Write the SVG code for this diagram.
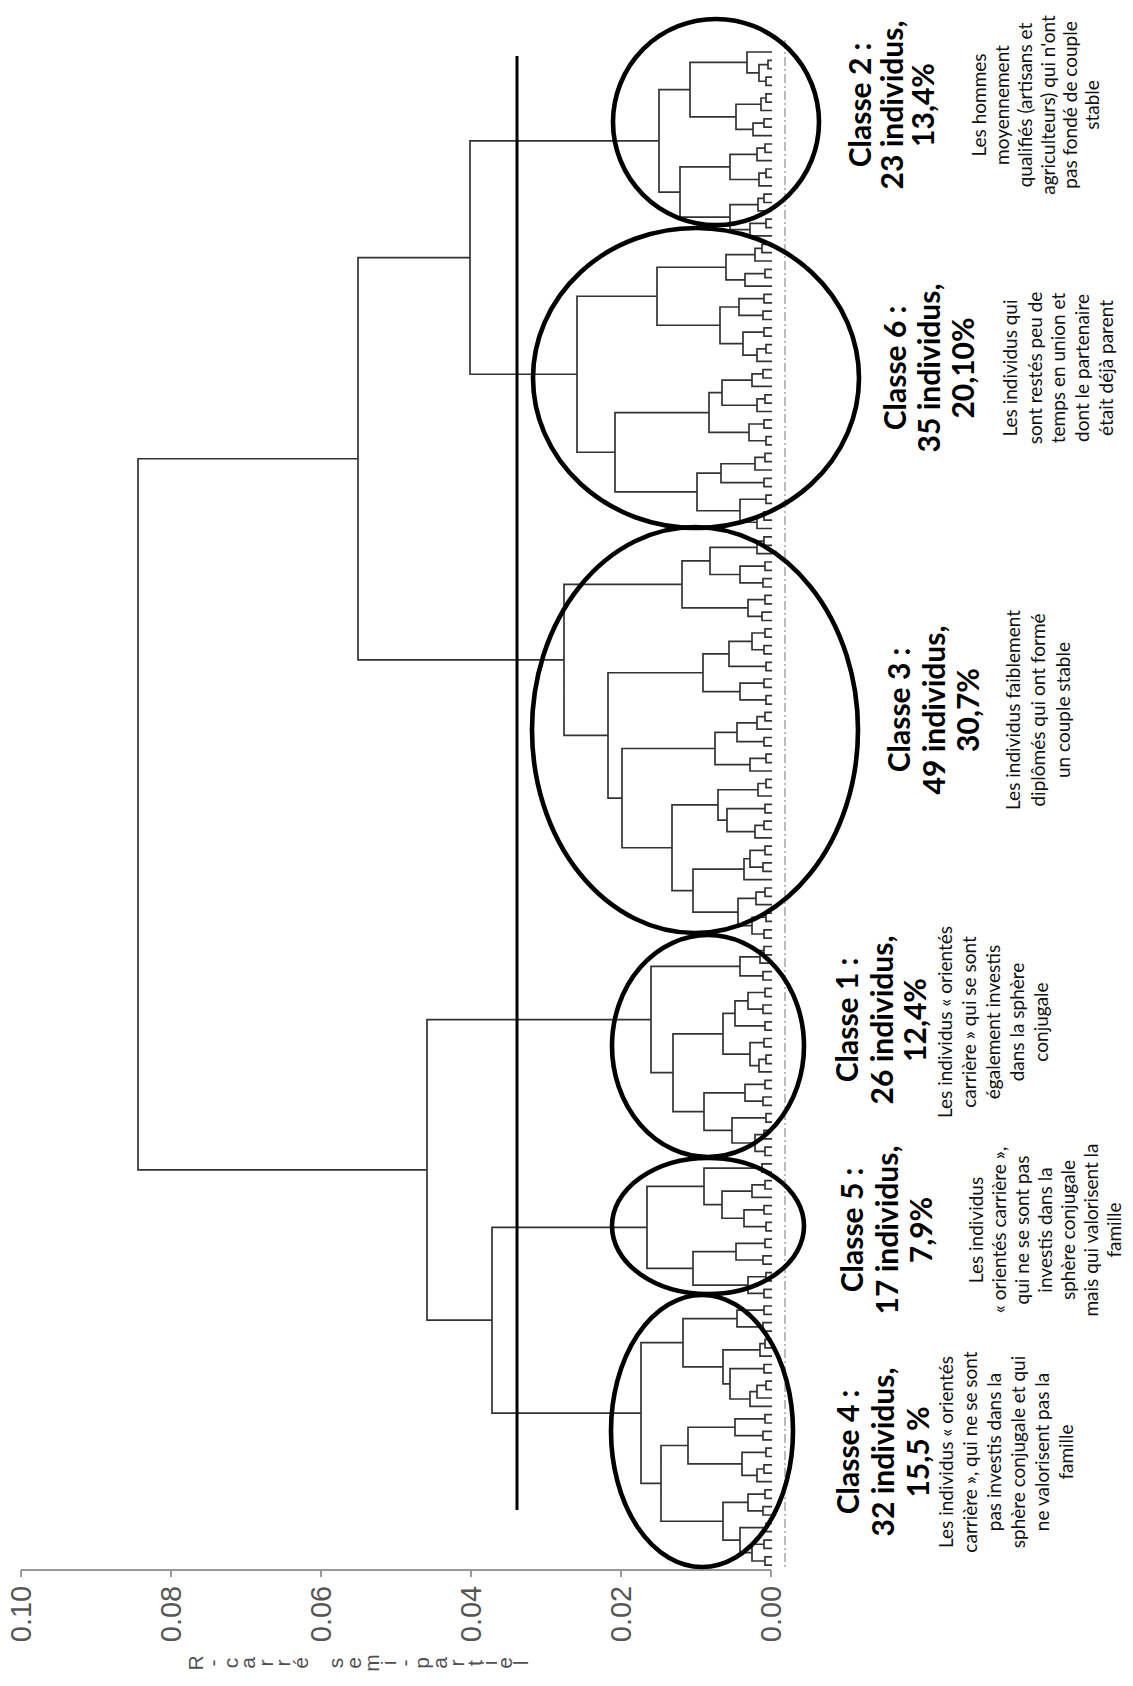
<svg xmlns="http://www.w3.org/2000/svg" width="1133" height="1686" viewBox="0 0 1133 1686">
<style>
.tree{fill:none;stroke:#333;stroke-width:1.7;stroke-linejoin:miter}
.ell{fill:none;stroke:#000;stroke-width:4.6}
.cut{stroke:#000;stroke-width:3}
.dash{stroke:#777;stroke-width:1;stroke-dasharray:9 3 2 3}
.axis{stroke:#999;stroke-width:2;fill:none}
.h{font-family:Lato,"Liberation Sans",sans-serif;font-weight:700;font-size:30px;fill:#000;text-anchor:middle}
.d{font-family:Lato,"Liberation Sans",sans-serif;font-size:19px;fill:#111;text-anchor:middle}
.ax{font-family:"Liberation Sans",Arial,sans-serif;font-size:29px;fill:#555;text-anchor:middle}
.at{font-family:"Liberation Sans",Arial,sans-serif;font-size:21px;fill:#505050;text-anchor:middle}
</style>
<rect width="1133" height="1686" fill="#fff"/>

<g id="axis">
<path class="axis" d="M21,1570H771M21,1570V1577M171,1570V1577M321,1570V1577M471,1570V1577M621,1570V1577M771,1570V1577"/>
<text class="ax" transform="rotate(-90)"><tspan x="-1614" y="31">0.10</tspan><tspan x="-1614" y="181">0.08</tspan><tspan x="-1614" y="331">0.06</tspan><tspan x="-1614" y="481">0.04</tspan><tspan x="-1614" y="631">0.02</tspan><tspan x="-1614" y="781">0.00</tspan></text>
<text class="at" transform="rotate(-90)" x="-1663 -1663 -1663 -1663 -1663 -1663 -1663 -1663 -1663 -1663 -1663 -1663 -1663 -1663 -1663 -1663 -1663 -1663 -1663" y="203 220 238 255 273 290 308 343 361 379 396 412 429 447 464 482 497 512 528">R-carrésemi-partiel</text>
</g>

<g id="baseline-dash"><line class="dash" x1="785" y1="40" x2="785" y2="1570"/></g>

<g id="connectors">
<path id="tree-classe-2" class="tree" d="M772,60.4H768V68.7H772M772,77.1H766V85.4H772M768,64.55H759V81.25H766M772,52H747V72.9H759M772,93.8H766V102.2H772M766,98H761V110.5H772M772,118.9H764V127.2H772M764,123.05H753V135.6H772M761,104.25H736V129.3H753M747,62.45H690V116.8H736M772,144H765V152.3H772M765,148.15H757V160.7H772M772,169H766V177.4H772M766,173.2H759V185.8H772M757,154.4H730V179.5H759M772,194.1H764V202.5H772M764,198.3H758V210.8H772M772,219.2H766V227.6H772M766,223.4H750V235.9H772M758,204.55H730V229.65H750M730,166.95H680V217.1H730M690,89.6H659V192.03H680"/>
<path id="tree-classe-6" class="tree" d="M772,244.3H762V252.6H772M762,248.45H755V261H772M772,269.4H765V277.7H772M765,273.55H745V286.1H772M755,254.7H726V279.8H745M772,294.4H764V302.8H772M772,311.2H763V319.5H772M764,298.6H739V315.35H763M772,327.9H764V336.2H772M772,344.6H766V353H772M766,348.8H757V361.3H772M764,332.05H743V355.05H757M739,306.98H720V343.55H743M726,267.25H657V325.27H720M772,369.7H763V378H772M763,373.85H752V386.4H772M772,394.8H765V403.1H772M765,398.95H757V411.5H772M752,380.13H722V405.23H757M772,419.8H764V428.2H772M772,436.6H766V444.9H772M764,424H749V440.75H766M722,392.68H709V432.38H749M772,453.3H765V461.6H772M765,457.45H755V470H772M772,478.4H764V486.7H772M755,463.73H721V482.55H764M772,495.1H766V503.4H772M772,511.8H764V520.2H772M764,516H757V528.5H772M766,499.25H740V522.25H757M721,473.14H697V510.75H740M709,412.53H615V491.95H697M657,296.26H577V452.24H615"/>
<path id="tree-classe-3" class="tree" d="M772,536.9H764V545.3H772M764,541.1H757V553.6H772M772,562H765V570.3H772M772,578.7H763V587H772M765,566.15H740V582.85H763M757,547.35H710V574.5H740M772,595.4H765V603.8H772M772,612.1H762V620.5H772M765,599.6H748V616.3H762M710,560.93H682V607.95H748M772,628.8H765V637.2H772M772,645.6H764V653.9H772M765,633H752V649.75H764M772,662.3H766V670.6H772M752,641.38H729V666.45H766M772,679H764V687.4H772M772,695.7H766V704.1H772M764,683.2H740V699.9H766M729,653.92H703V691.55H740M772,712.4H765V720.8H772M765,716.6H757V729.2H772M772,737.5H764V745.9H772M757,722.9H737V741.7H764M772,754.2H766V762.6H772M766,758.4H750V771H772M737,732.3H715V764.7H750M772,779.3H766V787.7H772M766,783.5H758V796H772M772,804.4H765V812.8H772M772,821.1H764V829.5H772M764,825.3H755V837.8H772M765,808.6H727V831.55H755M758,789.75H718V820.08H727M772,846.2H765V854.6H772M772,862.9H763V871.3H772M765,850.4H750V867.1H763M750,858.75H744V879.6H772M772,888H765V896.4H772M765,892.2H756V904.7H772M772,913.1H766V921.4H772M772,929.8H764V938.2H772M766,917.25H752V934H764M756,898.45H738V925.63H752M744,869.18H693V912.04H738M718,804.92H672V890.61H693M715,748.5H622V847.77H672M703,672.74H608V798.14H622M682,584.44H564V735.44H608"/>
<path id="tree-classe-1" class="tree" d="M772,946.5H764V954.9H772M764,950.7H760V963.2H772M772,971.6H763V980H772M760,956.95H740V975.8H763M772,988.3H765V996.7H772M772,1005H763V1013.4H772M765,992.5H748V1009.2H763M772,1021.8H765V1030.1H772M748,1000.85H735V1025.95H765M772,1038.5H764V1046.8H772M772,1055.2H766V1063.6H772M766,1059.4H759V1071.9H772M764,1042.65H750V1065.65H759M735,1013.4H723V1054.15H750M772,1080.3H765V1088.6H772M772,1097H763V1105.4H772M765,1084.45H745V1101.2H763M772,1113.7H766V1122.1H772M772,1130.4H764V1138.8H772M772,1147.2H765V1155.5H772M764,1134.6H755V1151.35H765M766,1117.9H732V1142.98H755M745,1092.83H704V1130.44H732M723,1033.78H673V1111.64H704M740,966.38H651V1072.71H673"/>
<path id="tree-classe-5" class="tree" d="M772,1163.9H762V1172.2H772M772,1180.6H765V1189H772M765,1184.8H752V1197.3H772M772,1205.7H764V1214H772M772,1222.4H766V1230.8H772M764,1209.85H744V1226.6H766M752,1191.05H722V1218.23H744M762,1168.05H704V1204.64H722M772,1239.1H765V1247.5H772M772,1255.8H763V1264.2H772M765,1243.3H736V1260H763M772,1272.6H766V1280.9H772M772,1289.3H764V1297.6H772M766,1276.75H748V1293.45H764M736,1251.65H693V1285.1H748M704,1186.35H647V1268.38H693"/>
<path id="tree-classe-4" class="tree" d="M772,1306H764V1314.4H772M772,1322.7H763V1331.1H772M764,1310.2H737V1326.9H763M772,1339.4H765V1347.8H772M765,1343.6H760V1356.2H772M772,1364.5H764V1372.9H772M772,1381.2H766V1389.6H772M766,1385.4H757V1398H772M757,1391.7H750V1406.3H772M764,1368.7H730V1399H750M760,1349.9H723V1383.85H730M737,1318.55H683V1366.88H723M772,1414.7H765V1423H772M772,1431.4H763V1439.8H772M765,1418.85H735V1435.6H763M772,1448.1H766V1456.5H772M772,1464.8H764V1473.2H772M764,1469H757V1481.6H772M766,1452.3H742V1475.3H757M735,1427.23H688V1463.8H742M772,1489.9H765V1498.3H772M772,1506.6H763V1515H772M765,1494.1H748V1510.8H763M772,1523.4H766V1531.7H772M772,1540.1H764V1548.4H772M772,1556.8H765V1565.2H772M764,1544.25H752V1561H765M766,1527.55H740V1552.63H752M748,1502.45H723V1540.09H740M688,1445.52H661V1521.27H723M683,1342.72H641V1483.4H661"/>
<path id="tree-upper" class="tree" d="M659,140.8H470V374.25H577M470,257.53H358V659.94H564M358,458.74H138V1169.89H427M651,1019.55H427V1320.22H492M647,1227.37H492V1413.06H641"/>
</g>

<g id="cut-line"><line class="cut" x1="517" y1="56" x2="517" y2="1510"/></g>

<g id="classe-2">
<ellipse class="ell" cx="716" cy="122" rx="103" ry="103"/>
<text class="h" transform="rotate(-90)"><tspan x="-105" y="871">Classe 2 :</tspan><tspan x="-105" y="903">23 individus,</tspan><tspan x="-105" y="934">13,4%</tspan></text>
<text class="d" transform="rotate(-90)"><tspan x="-105" y="986">Les hommes</tspan><tspan x="-105" y="1009">moyennement</tspan><tspan x="-105" y="1032">qualifiés (artisans et</tspan><tspan x="-105" y="1055">agriculteurs) qui n'ont</tspan><tspan x="-105" y="1077">pas fondé de couple</tspan><tspan x="-105" y="1099">stable</tspan></text>
</g>

<g id="classe-6">
<ellipse class="ell" cx="696" cy="378" rx="163" ry="150"/>
<text class="h" transform="rotate(-90)"><tspan x="-368" y="906">Classe 6 :</tspan><tspan x="-368" y="940">35 individus,</tspan><tspan x="-368" y="974">20,10%</tspan></text>
<text class="d" transform="rotate(-90)"><tspan x="-368" y="1017">Les individus  qui</tspan><tspan x="-368" y="1042">sont  restés peu de</tspan><tspan x="-368" y="1065">temps en union et</tspan><tspan x="-368" y="1089">dont le partenaire</tspan><tspan x="-368" y="1113">était déjà parent</tspan></text>
</g>

<g id="classe-3">
<ellipse class="ell" cx="695" cy="730" rx="163" ry="203"/>
<text class="h" transform="rotate(-90)"><tspan x="-710" y="910">Classe 3 :</tspan><tspan x="-710" y="945">49 individus,</tspan><tspan x="-710" y="979">30,7%</tspan></text>
<text class="d" transform="rotate(-90)"><tspan x="-710" y="1020">Les individus faiblement</tspan><tspan x="-710" y="1045">diplômés qui ont formé</tspan><tspan x="-710" y="1070">un couple stable</tspan></text>
</g>

<g id="classe-1">
<ellipse class="ell" cx="708" cy="1046" rx="96" ry="111"/>
<text class="h" transform="rotate(-90)"><tspan x="-1020" y="858">Classe 1 :</tspan><tspan x="-1020" y="893">26 individus,</tspan><tspan x="-1020" y="926">12,4%</tspan></text>
<text class="d" transform="rotate(-90)"><tspan x="-1022" y="952">Les individus « orientés</tspan><tspan x="-1022" y="976">carrière » qui se sont</tspan><tspan x="-1022" y="1000">également investis</tspan><tspan x="-1022" y="1024">dans la sphère</tspan><tspan x="-1022" y="1048">conjugale</tspan></text>
</g>

<g id="classe-5">
<ellipse class="ell" cx="708" cy="1226" rx="96" ry="68"/>
<text class="h" transform="rotate(-90)"><tspan x="-1230" y="863">Classe 5 :</tspan><tspan x="-1230" y="898">17 individus,</tspan><tspan x="-1230" y="932">7,9%</tspan></text>
<text class="d" transform="rotate(-90)"><tspan x="-1230" y="983">Les individus</tspan><tspan x="-1230" y="1006">« orientés carrière »,</tspan><tspan x="-1230" y="1029">qui ne se sont pas</tspan><tspan x="-1230" y="1052">investis dans la</tspan><tspan x="-1230" y="1075">sphère conjugale</tspan><tspan x="-1230" y="1098">mais qui valorisent la</tspan><tspan x="-1230" y="1121">famille</tspan></text>
</g>

<g id="classe-4">
<ellipse class="ell" cx="702" cy="1431" rx="91" ry="136"/>
<text class="h" transform="rotate(-90)"><tspan x="-1452" y="859">Classe 4 :</tspan><tspan x="-1452" y="894">32 individus,</tspan><tspan x="-1452" y="929">15,5 %</tspan></text>
<text class="d" transform="rotate(-90)"><tspan x="-1452" y="953">Les individus « orientés</tspan><tspan x="-1452" y="977">carrière », qui ne se sont</tspan><tspan x="-1452" y="1001">pas investis dans la</tspan><tspan x="-1452" y="1025">sphère conjugale et qui</tspan><tspan x="-1452" y="1049">ne valorisent pas la</tspan><tspan x="-1452" y="1073">famille</tspan></text>
</g>
</svg>
